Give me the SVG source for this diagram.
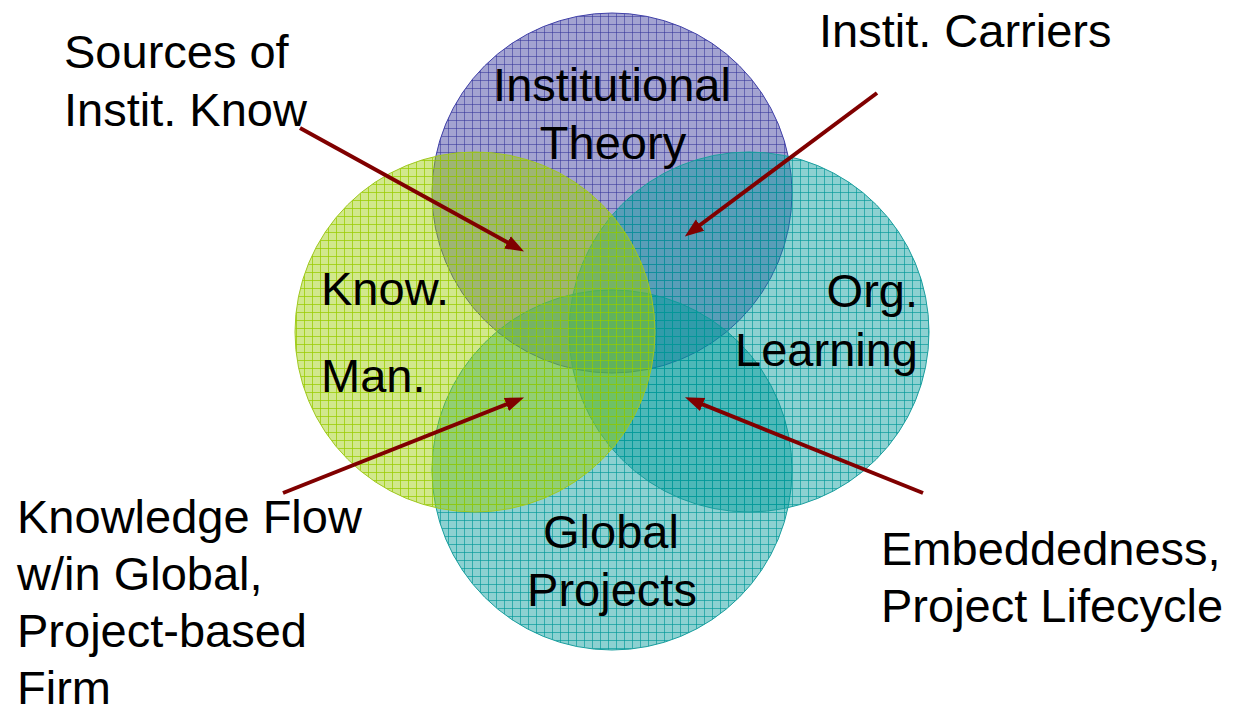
<svg xmlns="http://www.w3.org/2000/svg" width="1233" height="708" viewBox="0 0 1233 708">
<style>
  text { font-family: "Liberation Sans", Arial, Helvetica, sans-serif; font-size: 47px; fill: #000; }
  .mid { text-anchor: middle; }
  .end { text-anchor: end; }
  .arrow { stroke: #800000; stroke-width: 4; fill: none; marker-end: url(#head); }
</style>
<defs>
  <pattern id="pInst" width="8" height="8" patternUnits="userSpaceOnUse">
    <rect width="8" height="8" fill="#333399" fill-opacity="0.45"/>
    <path d="M0,0.5 H8 M0.5,0 V8" stroke="#333399" stroke-opacity="0.55" stroke-width="1"/>
  </pattern>
  <pattern id="pKnow" width="8" height="8" patternUnits="userSpaceOnUse">
    <rect width="8" height="8" fill="#99cc00" fill-opacity="0.45"/>
    <path d="M0,0.5 H8 M0.5,0 V8" stroke="#99cc00" stroke-opacity="0.75" stroke-width="1"/>
  </pattern>
  <pattern id="pTeal" width="8" height="8" patternUnits="userSpaceOnUse">
    <rect width="8" height="8" fill="#009999" fill-opacity="0.45"/>
    <path d="M0,0.5 H8 M0.5,0 V8" stroke="#009999" stroke-opacity="0.65" stroke-width="1"/>
  </pattern>
  <marker id="head" markerUnits="userSpaceOnUse" markerWidth="20" markerHeight="16" refX="10" refY="7" orient="auto" viewBox="0 0 20 14">
    <path d="M0,0 L19,7 L0,14 z" fill="#800000"/>
  </marker>
</defs>
<rect width="1233" height="708" fill="#ffffff"/>

<g id="institutional-theory">
  <circle cx="612" cy="193" r="180" fill="url(#pInst)" stroke="#4040a8" stroke-width="1"/>
</g>
<g id="global-projects">
  <circle cx="612" cy="470" r="180" fill="url(#pTeal)" stroke="#1a9e9e" stroke-width="1"/>
</g>
<g id="org-learning">
  <circle cx="749" cy="332" r="180" fill="url(#pTeal)" stroke="#1a9e9e" stroke-width="1"/>
</g>
<g id="know-man">
  <circle cx="475" cy="332" r="180" fill="url(#pKnow)" stroke="#a0c820" stroke-width="1"/>
</g>

<g id="labels-circles">
  <text class="mid" x="612" y="101">Institutional</text>
  <text class="mid" x="613" y="159">Theory</text>
  <text x="321" y="305">Know.</text>
  <text x="321" y="392">Man.</text>
  <text class="end" x="918" y="307">Org.</text>
  <text class="end" x="918" y="366">Learning</text>
  <text class="mid" x="611" y="548">Global</text>
  <text class="mid" x="612" y="606">Projects</text>
</g>

<g id="connectors">
  <line class="arrow" x1="300" y1="128" x2="516.2" y2="247.2"/>
  <line class="arrow" x1="877" y1="93" x2="692.0" y2="231.0"/>
  <line class="arrow" x1="283" y1="493" x2="515.7" y2="400.7"/>
  <line class="arrow" x1="923" y1="493" x2="693.3" y2="400.7"/>
</g>

<g id="sources-label">
  <text x="64" y="68">Sources of</text>
  <text x="64" y="126">Instit. Know</text>
</g>
<g id="carriers-label">
  <text x="819" y="47">Instit. Carriers</text>
</g>
<g id="knowledge-flow-label">
  <text x="17" y="533">Knowledge Flow</text>
  <text x="17" y="590">w/in Global,</text>
  <text x="17" y="647">Project-based</text>
  <text x="17" y="704">Firm</text>
</g>
<g id="embeddedness-label">
  <text x="881" y="565">Embeddedness,</text>
  <text x="881" y="622">Project Lifecycle</text>
</g>
</svg>
